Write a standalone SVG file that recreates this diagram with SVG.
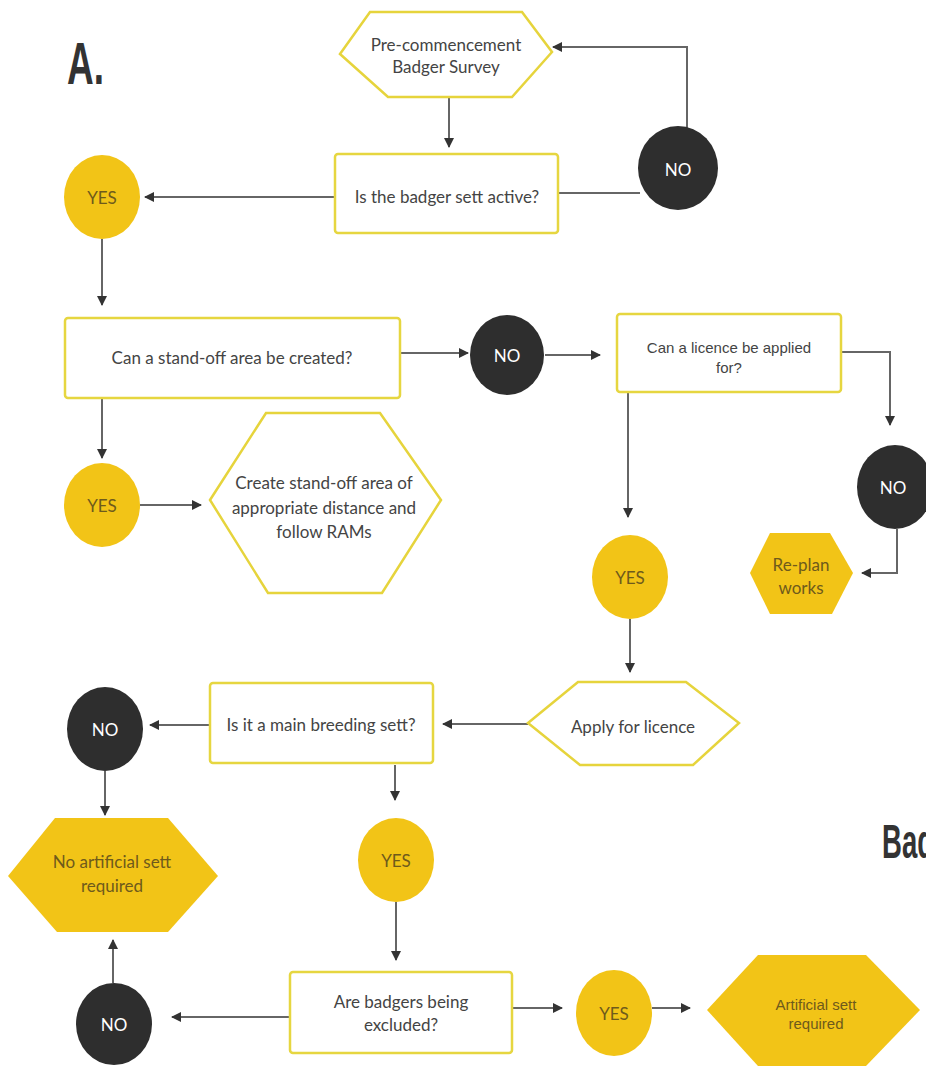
<svg xmlns="http://www.w3.org/2000/svg" width="926" height="1068" viewBox="0 0 926 1068">
<defs>
<marker id="ah" viewBox="0 0 10 10" refX="9" refY="5" markerWidth="10" markerHeight="10" markerUnits="userSpaceOnUse" orient="auto">
<path d="M0,0 L10,5 L0,10 Z" fill="#333"/>
</marker>
</defs>
<style>
.box{fill:#fff;stroke:#e6d640;stroke-width:2.5}
.hexo{fill:#fff;stroke:#e6d43c;stroke-width:2.5}
.hexf{fill:#f2c417;stroke:none}
.yes{fill:#f2c417}
.no{fill:#2e2e2e}
.t{font-family:Lato,"Open Sans","DejaVu Sans",sans-serif;font-size:17px;fill:#444;text-anchor:middle}
.ta{font-family:"Liberation Sans",Arial,sans-serif;font-size:15px;fill:#444;text-anchor:middle}
.tf{font-family:Lato,"Open Sans",sans-serif;font-size:17px;fill:#6e5a1c;text-anchor:middle}
.tfa{font-family:"Liberation Sans",Arial,sans-serif;font-size:15px;fill:#6e5a1c;text-anchor:middle}
.tn{font-family:Lato,"Open Sans",sans-serif;font-size:17px;fill:#fff;text-anchor:middle}
.big{font-family:"Liberation Sans",Arial,sans-serif;font-weight:bold;fill:#333}
.c{fill:none;stroke:#666;stroke-width:2}
.ca{fill:none;stroke:#666;stroke-width:2;marker-end:url(#ah)}
</style>
<rect width="926" height="1068" fill="#fff"/>
<text class="big" x="67" y="84" font-size="60" textLength="37" lengthAdjust="spacingAndGlyphs">A.</text>
<text class="big" x="882" y="858" font-size="49" textLength="52" lengthAdjust="spacingAndGlyphs">Bad</text>

<g id="connectors">
<path class="ca" d="M449,98 V147"/>
<path class="c" d="M558,193 H640"/>
<path class="ca" d="M687,128 V47 H553"/>
<path class="ca" d="M335,197 H145"/>
<path class="ca" d="M102,239 V305"/>
<path class="ca" d="M400,353 H468"/>
<path class="ca" d="M545,355 H600"/>
<path class="ca" d="M841,352 H890 V425"/>
<path class="ca" d="M897,529 V573 H862"/>
<path class="ca" d="M102,398 V458"/>
<path class="ca" d="M140,505 H201"/>
<path class="ca" d="M628,393 V517"/>
<path class="ca" d="M630,619 V672"/>
<path class="ca" d="M528,724 H443"/>
<path class="ca" d="M210,725 H150"/>
<path class="ca" d="M105,771 V815"/>
<path class="ca" d="M395,765 V800"/>
<path class="ca" d="M396,902 V960"/>
<path class="ca" d="M290,1017 H172"/>
<path class="ca" d="M113,983 V940"/>
<path class="ca" d="M512,1008 H562"/>
<path class="ca" d="M652,1008 H690"/>
</g>

<g id="survey">
<polygon class="hexo" points="340,54 370,12 522,12 552,52 512,97 388,97"/>
<text class="t" x="446" y="51">Pre-commencement</text>
<text class="t" x="446" y="73">Badger Survey</text>
</g>
<g id="active">
<rect class="box" x="335" y="154" width="223" height="79" rx="3"/>
<text class="t" x="447" y="203">Is the badger sett active?</text>
</g>
<g id="no1"><ellipse class="no" cx="678" cy="168" rx="40" ry="42"/><text class="tn" x="678" y="176">NO</text></g>
<g id="yes1"><ellipse class="yes" cx="102" cy="197" rx="38" ry="42"/><text class="tf" x="102" y="204">YES</text></g>

<g id="standoff">
<rect class="box" x="65" y="318" width="335" height="80" rx="3"/>
<text class="t" x="232" y="364">Can a stand-off area be created?</text>
</g>
<g id="no2"><ellipse class="no" cx="507" cy="355" rx="37" ry="40"/><text class="tn" x="507" y="362">NO</text></g>
<g id="licence">
<rect class="box" x="617" y="314" width="224" height="78" rx="3"/>
<text class="ta" x="729" y="353">Can a licence be applied</text>
<text class="ta" x="729" y="373">for?</text>
</g>
<g id="no3"><ellipse class="no" cx="895" cy="487" rx="38" ry="42"/><text class="tn" x="893" y="494">NO</text></g>
<g id="replan">
<polygon class="hexf" points="750,573 770,533 830,533 853,573 832,614 770,614"/>
<text class="tf" x="801" y="571">Re-plan</text>
<text class="tf" x="801" y="594">works</text>
</g>
<g id="yes2"><ellipse class="yes" cx="102" cy="505" rx="38" ry="42"/><text class="tf" x="102" y="512">YES</text></g>
<g id="create">
<polygon class="hexo" points="210,500 266,413 380,413 441,500 382,593 268,593"/>
<text class="t" x="324" y="489" font-size="18">Create stand-off area of</text>
<text class="t" x="324" y="514" font-size="18">appropriate distance and</text>
<text class="t" x="324" y="538" font-size="18">follow RAMs</text>
</g>
<g id="yes3"><ellipse class="yes" cx="630" cy="577" rx="38" ry="42"/><text class="tf" x="630" y="584">YES</text></g>
<g id="apply">
<polygon class="hexo" points="528,723 578,682 686,682 739,723 693,765 580,765"/>
<text class="t" x="633" y="733" font-size="18.5">Apply for licence</text>
</g>
<g id="breeding">
<rect class="box" x="210" y="683" width="223" height="80" rx="3"/>
<text class="t" x="321" y="731">Is it a main breeding sett?</text>
</g>
<g id="no4"><ellipse class="no" cx="105" cy="729" rx="38" ry="42"/><text class="tn" x="105" y="736">NO</text></g>
<g id="noart">
<polygon class="hexf" points="8,876 55,818 168,818 218,876 168,932 57,932"/>
<text class="tf" x="112" y="868">No artificial sett</text>
<text class="tf" x="112" y="892">required</text>
</g>
<g id="yes4"><ellipse class="yes" cx="396" cy="860" rx="38" ry="42"/><text class="tf" x="396" y="867">YES</text></g>
<g id="excluded">
<rect class="box" x="290" y="972" width="222" height="81" rx="3"/>
<text class="t" x="401" y="1008" font-size="18">Are badgers being</text>
<text class="t" x="401" y="1031" font-size="18">excluded?</text>
</g>
<g id="no5"><ellipse class="no" cx="114" cy="1024" rx="38" ry="41"/><text class="tn" x="114" y="1031">NO</text></g>
<g id="yes5"><ellipse class="yes" cx="614" cy="1013" rx="38" ry="43"/><text class="tf" x="614" y="1020">YES</text></g>
<g id="artreq">
<polygon class="hexf" points="707,1010 758,955 866,955 920,1010 866,1066 758,1066"/>
<text class="tfa" x="816" y="1010">Artificial sett</text>
<text class="tfa" x="816" y="1029">required</text>
</g>
</svg>
